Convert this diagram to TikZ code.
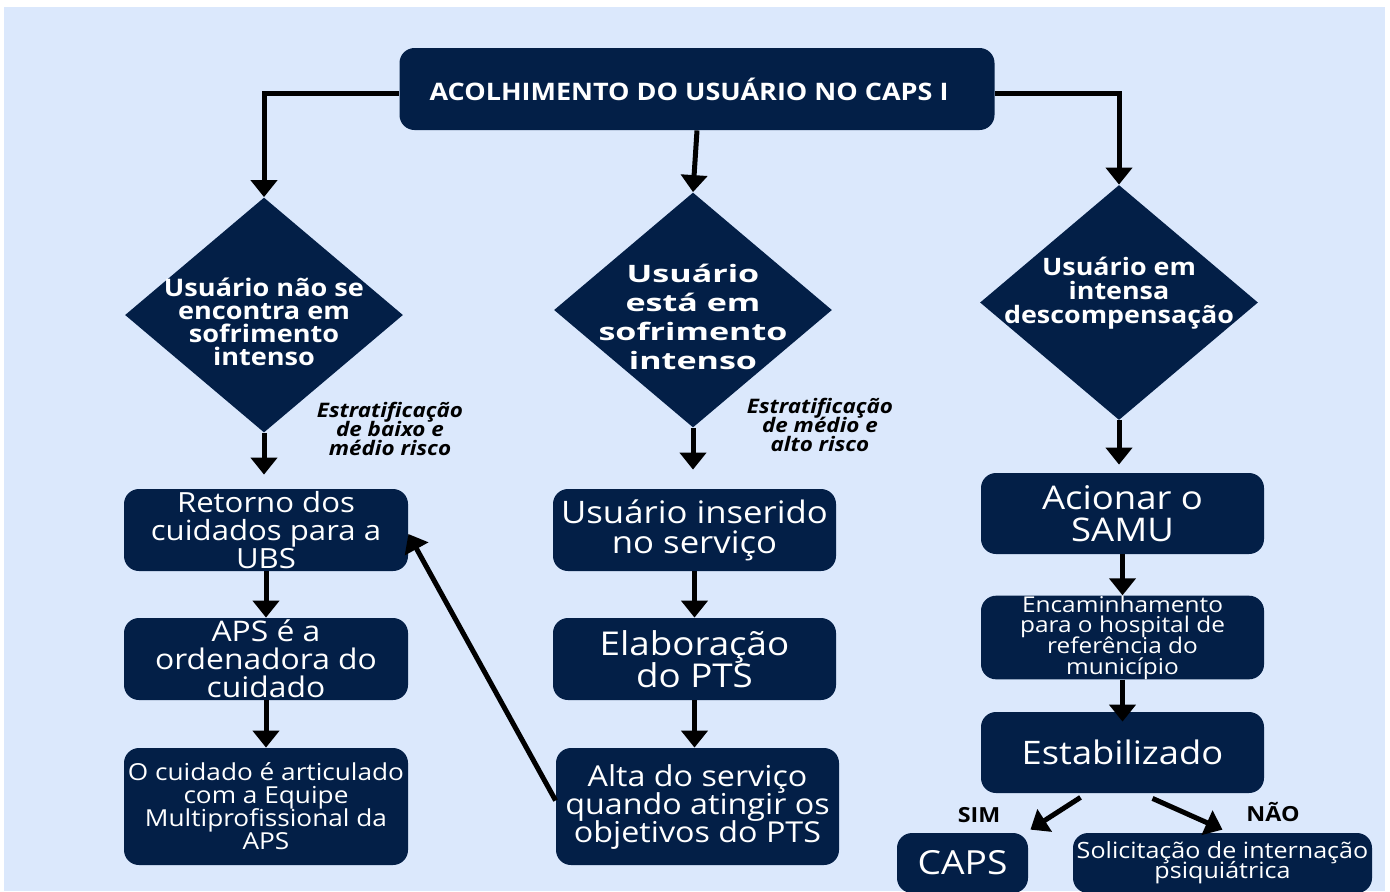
\documentclass[tikz,border=0pt]{standalone}
\usepackage{fontspec}
\setmainfont{Open Sans}[FakeStretch=1.12]
\newfontfamily\largafont[FakeStretch=1.42]{Open Sans}
\usetikzlibrary{arrows.meta,shapes.geometric}
\definecolor{azul}{HTML}{031F47}
\definecolor{fundo}{HTML}{DBE8FC}
\newcommand\tam[2]{\fontsize{#1}{#2}\selectfont\lineskiplimit=-\maxdimen}
\tikzset{
	caixa/.style={rectangle, rounded corners=7.5pt, fill=azul, text=white, align=center, inner sep=0pt, minimum width=142pt, minimum height=41pt},
	losango/.style={diamond, fill=azul, inner sep=0pt, minimum width=139pt, minimum height=117.5pt},
	textolosango/.style={text=white, align=center, inner sep=0pt},
	seta/.style={line width=2.5pt, -{Triangle[width=13pt,length=8.5pt]}},
	nota/.style={align=center, inner sep=0pt, font=\bfseries\itshape\tam{10}{9.5}},
}
\begin{document}
\begin{tikzpicture}[x=0.5pt,y=-0.5pt]
		\useasboundingbox (0,0) rectangle (1390,891);
		\fill[fundo] (4,7) rectangle (1385,891);
		
		\node[caixa, minimum width=297.5pt, font=\bfseries\tam{12.05}{14}] (acolh) at (697,89) {\hspace*{-8pt}ACOLHIMENTO DO USUÁRIO NO CAPS I};
		
		% losangos
		\node[losango] (dnao) at (264,315) {};
		\node[losango] (dsim) at (693,310) {};
		\node[losango] (ddesc) at (1119,302.5) {};
		\node[textolosango, font=\bfseries\tam{12.1}{11.5}] (tnao) at (264,322) {Usuário não se\\encontra em\\sofrimento\\intenso};
		\node[textolosango, font=\largafont\bfseries\tam{12}{14.5}] (tsim) at (693,317) {Usuário\\está em\\sofrimento\\intenso};
		\node[textolosango, font=\bfseries\tam{12}{12}] (tdesc) at (1119,293) {Usuário em\\intensa\\descompensação};
		
		\node[nota] (estrat1) at (390,429) {Estratificação\\de baixo e\\médio risco};
		\node[nota] (estrat2) at (820,425) {Estratificação\\de médio e\\alto risco};
		
		% coluna esquerda
		\node[caixa, font=\tam{13.9}{14}] (retorno) at (266,530) {Retorno dos\\cuidados para a\\UBS};
		\node[caixa, font=\tam{14.2}{14}] (aps) at (266,659) {APS é a\\ordenadora do\\cuidado};
		\node[caixa, minimum height=58.5pt, font=\tam{11.7}{11.5}] (articulado) at (266,806.5) {O cuidado é articulado\\com a Equipe\\Multiprofissional da\\APS};
		
		% coluna do meio
		\node[caixa, minimum width=141.5pt, font=\tam{15.5}{15}] (inserido) at (694.5,530) {Usuário inserido\\no serviço};
		\node[caixa, minimum width=141.5pt, font=\tam{16.4}{16}] (pts) at (694.5,659) {Elaboração\\do PTS};
		\node[caixa, minimum width=141.5pt, minimum height=58.5pt, font=\tam{14.4}{14}] (alta) at (697.5,806.5) {Alta do serviço\\quando atingir os\\objetivos do PTS};
		
		% coluna direita
		\node[caixa, minimum width=141.5pt, minimum height=40.5pt, font=\tam{16.3}{16}] (samu) at (1122.5,513.5) {Acionar o\\SAMU};
		\node[caixa, minimum width=141.5pt, minimum height=40.5pt, font=\tam{10.9}{10.3}] (hospital) at (1122.5,637.5) {Encaminhamento\\para o hospital de\\referência do\\município};
		\node[caixa, minimum width=141.5pt, minimum height=40.5pt, font=\tam{16.2}{16}] (estab) at (1122.5,752.5) {Estabilizado};
		\node[caixa, minimum width=65.5pt, minimum height=30pt, font=\tam{16.6}{16}] (caps) at (962.5,863) {CAPS};
		\node[caixa, minimum width=149.5pt, minimum height=30pt, font=\tam{11.2}{10}] (solic) at (1222.5,863) {Solicitação de internação\\psiquiátrica};
		
		\node[font=\bfseries\tam{10.4}{10}, inner sep=0pt] (sim) at (979,815) {SIM};
		\node[font=\bfseries\tam{10.4}{10}, inner sep=0pt] (nao) at (1273,812) {NÃO};
		
		% setas
		\draw[seta] ([yshift=-2pt]acolh.west) -| (dnao.north);
		\draw[seta] ([yshift=-2pt]acolh.east) -| (ddesc.north);
		\draw[seta] (acolh.south) -- (dsim.north);
		\draw[seta, shorten >=7pt] (dnao.south) -- (dnao.south |- retorno.north);
		\draw[seta, shorten >=9.5pt] (dsim.south) -- (dsim.south |- inserido.north);
		\draw[seta, shorten >=4pt] (ddesc.south) -- (ddesc.south |- samu.north);
		\foreach \a/\b in {retorno/aps, aps/articulado, inserido/pts, samu/hospital}{
			\draw[seta] (\a.south) -- (\b.north);
		}
		\draw[seta] (pts.south) -- (pts.south |- alta.north);
		\draw[seta, shorten >=-5pt] (hospital.south) -- (estab.north);
		\draw[seta] ([yshift=3pt]alta.west) -- ([yshift=-2pt]retorno.east);
		\draw[seta] ([xshift=-21pt,yshift=-2pt]estab.south) -- ([xshift=1pt,yshift=1.5pt]caps.north east);
		\draw[seta] ([xshift=15pt,yshift=-2.5pt]estab.south) -- ([yshift=1.5pt]solic.north);
	\end{tikzpicture}
\end{document}
